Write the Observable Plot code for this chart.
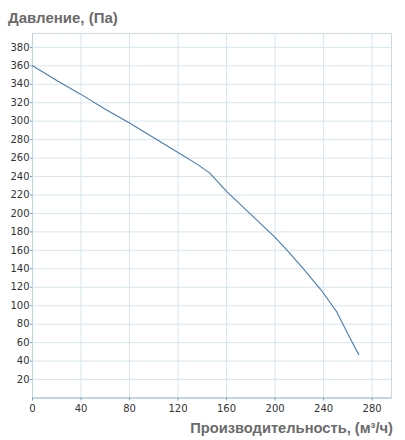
<!DOCTYPE html>
<html>
<head>
<meta charset="utf-8">
<script src="https://cdn.jsdelivr.net/npm/d3@7"></script>
<script src="https://cdn.jsdelivr.net/npm/@observablehq/plot@0.6"></script>
<style>
  html, body { margin: 0; padding: 0; background: #fff; }
  #title { height: 30px; box-sizing: border-box; padding: 9px 0 0 8px; font: bold 15px "Liberation Sans", Arial, sans-serif; color: #6b6b6b; line-height: 18px; }
  #xlabel { height: 22px; box-sizing: border-box; text-align: right; padding-right: 12px; padding-top: 1px; font: bold 14.7px "Liberation Sans", Arial, sans-serif; color: #6b6b6b; line-height: 18px; }
  #chart svg { display: block; }
</style>
</head>
<body>
<div id="title">Давление, (Па)</div>
<div id="chart"></div>
<div id="xlabel">Производительность, (м³/ч)</div>
<script>
const flow =     [0,   20,  40,  60,  80,  100, 120, 135, 146, 160, 180, 200, 210, 222, 238, 251, 261, 269];
const pressure = [360, 344, 329, 313, 298, 282, 266, 254, 244, 224, 199, 174, 160, 142, 117, 93,  67,  47];
const xTicks = [0, 40, 80, 120, 160, 200, 240, 280];
const yTicks = [20, 40, 60, 80, 100, 120, 140, 160, 180, 200, 220, 240, 260, 280, 300, 320, 340, 360, 380];

const data = flow.map((q, i) => ({q, p: pressure[i]}));

const chart = Plot.plot({
  width: 405,
  height: 388,
  marginLeft: 32,
  marginRight: 14,
  marginTop: 3,
  marginBottom: 20.5,
  style: {fontFamily: "'DejaVu Sans', Verdana, sans-serif", fontSize: "10px", color: "#333", background: "#fff"},
  x: {domain: [0, 296]},
  y: {domain: [0, 395]},
  marks: [
    Plot.gridX(xTicks, {stroke: "#d7e5ee", strokeOpacity: 1}),
    Plot.gridY(yTicks, {stroke: "#d7e5ee", strokeOpacity: 1}),
    Plot.frame({stroke: "#c9dae4"}),
    Plot.ruleY([0], {stroke: "#a3bdd3", strokeWidth: 1.2}),
    Plot.ruleX([0], {stroke: "#c0d3e0"}),
    Plot.axisX(xTicks, {tickSize: 3, tickPadding: 4, stroke: "#7e9fc0", fill: "#333", label: null}),
    Plot.axisY(yTicks, {tickSize: 2, tickPadding: 1, stroke: "#7e9fc0", fill: "#333", label: null}),
    Plot.line(data, {x: "q", y: "p", stroke: "#4a7db3", strokeWidth: 1.1})
  ]
});
document.getElementById("chart").append(chart);
</script>
</body>
</html>
